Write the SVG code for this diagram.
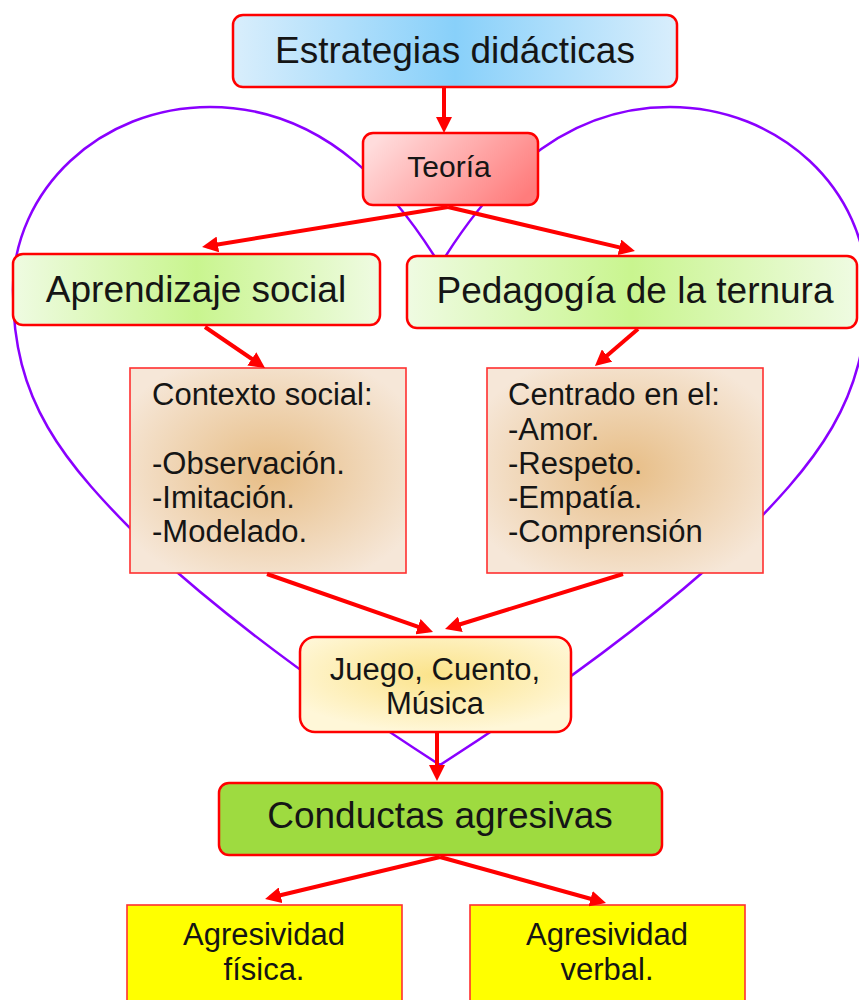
<svg xmlns="http://www.w3.org/2000/svg" width="859" height="1000" viewBox="0 0 859 1000">
<style>
text{font-family:"Liberation Sans",Arial,sans-serif;fill:#151515}
.big{font-size:37px}
.mid{font-size:31px}
.rb{stroke:#ff0000;stroke-width:2.5}
.sq{stroke:#ff3030;stroke-width:1.6}
.arr{stroke:#ff0000;stroke-width:4;fill:none;marker-end:url(#ah)}
.heart{fill:none;stroke:#8a00ff;stroke-width:2.5}
</style>
<defs>
<marker id="ah" markerUnits="userSpaceOnUse" markerWidth="16" markerHeight="16" refX="11" refY="8" orient="auto">
<path d="M0,0 L16,8 L0,16 z" fill="#ff0000"/>
</marker>
<linearGradient id="gBlue" x1="0" y1="0" x2="1" y2="0">
<stop offset="0" stop-color="#d9eefc"/><stop offset="0.5" stop-color="#88d0fa"/><stop offset="1" stop-color="#d9eefc"/>
</linearGradient>
<linearGradient id="gRed" x1="0" y1="0.3" x2="1" y2="0.7">
<stop offset="0" stop-color="#ffdcdc"/><stop offset="1" stop-color="#ff7c7c"/>
</linearGradient>
<linearGradient id="gGreen" x1="0" y1="0" x2="1" y2="0">
<stop offset="0" stop-color="#effbe2"/><stop offset="0.5" stop-color="#c9f58f"/><stop offset="1" stop-color="#effbe2"/>
</linearGradient>
<radialGradient id="gTan" cx="0.5" cy="0.5" r="0.6">
<stop offset="0" stop-color="#e7bd85"/><stop offset="1" stop-color="#f6e7d8"/>
</radialGradient>
<radialGradient id="gYel" cx="0.5" cy="0.4" r="0.6">
<stop offset="0" stop-color="#fbe38a"/><stop offset="1" stop-color="#fff7d8"/>
</radialGradient>
</defs>
<rect width="859" height="1000" fill="#ffffff"/>
<g id="heart">
<path class="heart" d="M440,265 C400,200 330,107 210,107 C100,107 13,190 13,290 C13,400 60,460 150,548 C250,640 370,720 440,765 C510,720 630,640 730,548 C820,460 867,400 867,290 C867,190 780,107 670,107 C550,107 480,200 440,265 Z"/>
</g>
<g id="n-estrategias">
<rect class="rb" x="233" y="15" width="444" height="72" rx="10" fill="url(#gBlue)"/>
<text class="big" x="455" y="63" text-anchor="middle">Estrategias didácticas</text>
</g>
<g id="n-teoria">
<rect class="rb" x="363" y="133" width="175" height="72" rx="10" fill="url(#gRed)"/>
<text x="449" y="177" font-size="30" text-anchor="middle">Teoría</text>
</g>
<g id="n-aprendizaje">
<rect class="rb" x="13" y="254" width="367" height="71" rx="10" fill="url(#gGreen)"/>
<text class="big" x="196" y="302" text-anchor="middle">Aprendizaje social</text>
</g>
<g id="n-pedagogia">
<rect class="rb" x="407" y="256" width="450" height="72" rx="10" fill="url(#gGreen)"/>
<text class="big" x="635" y="303" text-anchor="middle">Pedagogía de la ternura</text>
</g>
<g id="n-contexto">
<rect class="sq" x="130" y="368" width="276" height="205" fill="url(#gTan)"/>
<text class="mid" x="152" y="405">Contexto social:</text>
<text class="mid" x="152" y="474">-Observación.</text>
<text class="mid" x="152" y="508">-Imitación.</text>
<text class="mid" x="152" y="542">-Modelado.</text>
</g>
<g id="n-centrado">
<rect class="sq" x="487" y="368" width="276" height="205" fill="url(#gTan)"/>
<text class="mid" x="508" y="405">Centrado en el:</text>
<text class="mid" x="508" y="440">-Amor.</text>
<text class="mid" x="508" y="474">-Respeto.</text>
<text class="mid" x="508" y="508">-Empatía.</text>
<text class="mid" x="508" y="542">-Comprensión</text>
</g>
<g id="n-juego">
<rect class="rb" x="300" y="637" width="271" height="95" rx="15" fill="url(#gYel)"/>
<text class="mid" x="435" y="680" text-anchor="middle">Juego, Cuento,</text>
<text class="mid" x="435" y="714" text-anchor="middle">Música</text>
</g>
<g id="n-conductas">
<rect class="rb" x="219" y="783" width="443" height="72" rx="10" fill="#9edb40"/>
<text class="big" x="440" y="828" text-anchor="middle">Conductas agresivas</text>
</g>
<g id="n-fisica">
<rect class="sq" x="127" y="905" width="275" height="110" fill="#ffff00"/>
<text class="mid" x="264" y="945" text-anchor="middle">Agresividad</text>
<text class="mid" x="264" y="980" text-anchor="middle">física.</text>
</g>
<g id="n-verbal">
<rect class="sq" x="470" y="905" width="275" height="110" fill="#ffff00"/>
<text class="mid" x="607" y="945" text-anchor="middle">Agresividad</text>
<text class="mid" x="607" y="980" text-anchor="middle">verbal.</text>
</g>
<g id="connectors">
<line class="arr" x1="444" y1="88" x2="444" y2="128"/>
<line class="arr" x1="448" y1="207" x2="207" y2="246.2"/>
<line class="arr" x1="448" y1="207" x2="630.1" y2="249.9"/>
<line class="arr" x1="205" y1="327" x2="260.9" y2="365.1"/>
<line class="arr" x1="638" y1="329" x2="598.7" y2="362.7"/>
<line class="arr" x1="267" y1="574" x2="428.3" y2="630.3"/>
<line class="arr" x1="623" y1="574" x2="449.8" y2="627.5"/>
<line class="arr" x1="437" y1="733" x2="437" y2="776"/>
<line class="arr" x1="440" y1="857" x2="269.9" y2="897.8"/>
<line class="arr" x1="440" y1="857" x2="601.2" y2="901.7"/>
</g>
</svg>
